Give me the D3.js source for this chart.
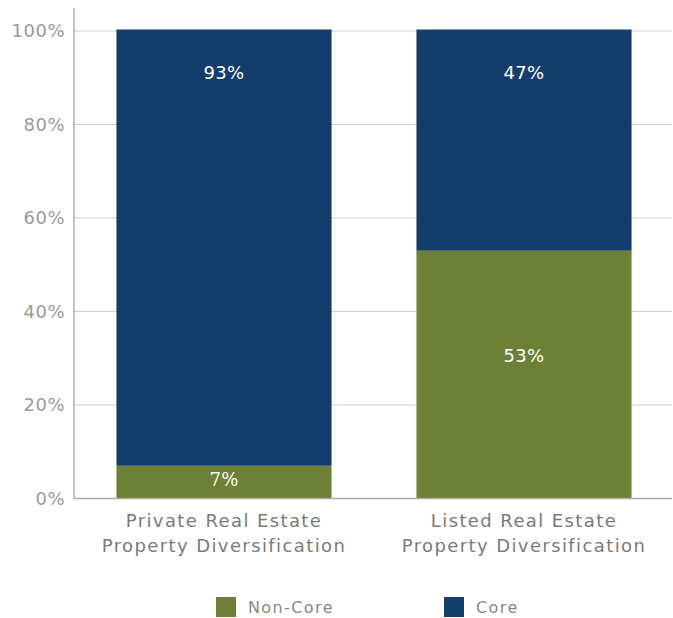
<!DOCTYPE html>
<html><head><meta charset="utf-8">
<script src="https://cdn.jsdelivr.net/npm/d3@7"></script>
<style>body{margin:0;background:#fff}svg{display:block}</style>
</head><body>
<script>
const categories = [["Private Real Estate","Property Diversification"],["Listed Real Estate","Property Diversification"]];
const categoryKeys = ["private","listed"];
const seriesNames = ["Non-Core","Core"];
const nonCore = [7,53];
const core = [93,47];
const yTicks = [0,20,40,60,80,100];
const colors = {"Non-Core":"#6e8035","Core":"#133d6b"};

const W=673,H=618;
const svg=d3.select("body").append("svg").attr("width",W).attr("height",H);
const font="'DejaVu Sans', sans-serif";
const x=d3.scaleBand().domain(categoryKeys).range([74,674]).paddingInner(0.283).paddingOuter(0.1415);
const y=d3.scaleLinear().domain([0,100]).range([498.5,31]);

// gridlines
svg.append("g").selectAll("line").data(yTicks.filter(d=>d>0)).join("line")
  .attr("x1",74).attr("x2",672).attr("y1",d=>y(d)).attr("y2",d=>y(d))
  .attr("stroke","#d0d0d0").attr("stroke-width",1.2);

// tick labels
svg.append("g").selectAll("text").data(yTicks).join("text")
  .attr("x",65).attr("y",d=>y(d)).attr("dy","0.36em").attr("text-anchor","end")
  .attr("font-family",font).attr("font-size",18).attr("letter-spacing",0.5).attr("fill","#9a9a9a")
  .text(d=>d+"%");

const stack=d3.stack().keys(seriesNames)(categoryKeys.map((k,i)=>({key:k,"Non-Core":nonCore[i],"Core":core[i]})));
const g=svg.append("g");
stack.forEach(s=>{
  g.selectAll(null).data(s).join("rect")
    .attr("x",d=>x(d.data.key)).attr("width",x.bandwidth())
    .attr("y",d=>y(d[1])-(s.key==="Core"?1.5:0)).attr("height",d=>y(d[0])-y(d[1])+(s.key==="Core"?1.5:0))
    .attr("fill",colors[s.key]);
});

// value labels
const labels=[];
stack.forEach(s=>s.forEach(d=>labels.push({key:d.data.key,v:d[1]-d[0],y0:d[0],y1:d[1],series:s.key})));
svg.append("g").selectAll("text").data(labels).join("text")
  .attr("x",d=>x(d.key)+x.bandwidth()/2)
  .attr("y",d=>{
    if(d.series==="Core") return y(d.y1)+42;
    const mid=(y(d.y0)+y(d.y1))/2, h=y(d.y0)-y(d.y1);
    return mid-0.077*h;
  })
  .attr("dy","0.36em").attr("text-anchor","middle")
  .attr("font-family",d=>d.v<10?"'DejaVu Serif', serif":font).attr("font-size",18).attr("letter-spacing",0.3).attr("fill","#fff")
  .text(d=>d.v+"%");

// axes lines
svg.append("line").attr("x1",74).attr("x2",74).attr("y1",8).attr("y2",498.5).attr("stroke","#999").attr("stroke-width",1.2);
svg.append("line").attr("x1",74).attr("x2",672).attr("y1",498.5).attr("y2",498.5).attr("stroke","#aaa").attr("stroke-width",1.5);

// category labels
categoryKeys.forEach((k,i)=>{
  const cx=x(k)+x.bandwidth()/2;
  const t=svg.append("text").attr("x",cx).attr("y",527).attr("text-anchor","middle")
   .attr("font-family",font).attr("font-size",18).attr("letter-spacing",1.4).attr("fill","#7a7a7a");
  categories[i].forEach((line,j)=>t.append("tspan").attr("x",cx).attr("dy",j?25:0).text(line));
});

// legend
const legX=[216,444];
seriesNames.forEach((n,i)=>{
  svg.append("rect").attr("x",legX[i]).attr("y",597).attr("width",20).attr("height",20).attr("fill",colors[n]);
  svg.append("text").attr("x",legX[i]+32).attr("y",607).attr("dy","0.36em").attr("font-family",font)
   .attr("font-size",16).attr("letter-spacing",1.4).attr("fill","#888").text(n);
});
</script>
</body></html>
